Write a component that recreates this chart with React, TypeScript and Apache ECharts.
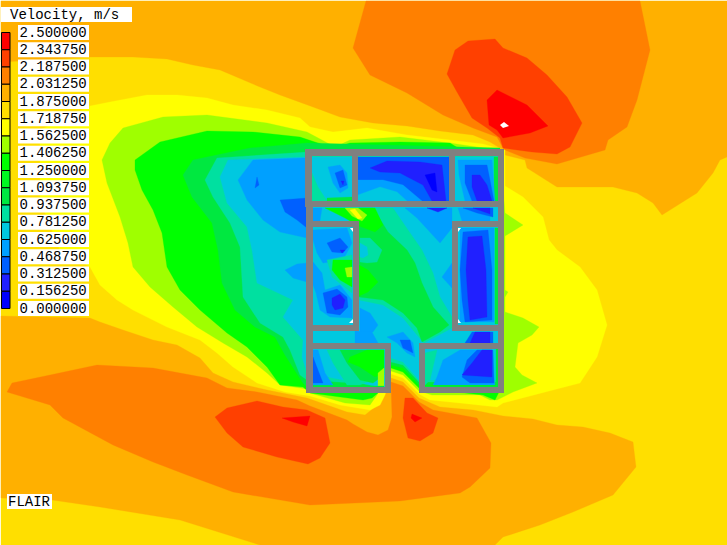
import React, { useEffect, useRef } from "react";
import * as echarts from "echarts";

type Pt = number[];
const title = "Velocity, m/s";
const brand = "FLAIR";
const tickLabels = ["2.500000","2.343750","2.187500","2.031250","1.875000","1.718750","1.562500","1.406250","1.250000","1.093750","0.937500","0.781250","0.625000","0.468750","0.312500","0.156250","0.000000"];
const bandColors = ["#0000ff","#2020ff","#0060ff","#00a0ff","#00c8e0","#00e0a0","#00e840","#00f820","#00ff00","#9fff00","#ffff00","#ffdf00","#ffb000","#ff8000","#ff4000","#ff0000"];

// Contour outlines in the plot's own coordinates
const field: Pt[] = [[1,1],[727,1],[727,545],[1,545]];
const topB: Pt[] = [[1,1],[727,1],[727,157],[720,160],[713,173],[697,193],[662,215],[653,203],[637,193],[613,187],[557,187],[527,168],[525,160],[505,155],[500,148],[490,142],[473,135],[440,131],[407,126],[373,123],[340,117],[313,107],[280,95],[260,87],[220,70],[193,65],[167,59],[133,57],[90,57],[40,60],[1,62]];
const lowB: Pt[] = [[1,316],[90,318],[100,322],[123,330],[153,340],[177,345],[200,358],[213,373],[233,382],[267,390],[307,398],[347,412],[365,415],[375,407],[383,393],[391,378],[403,382],[419,398],[440,407],[473,410],[503,416],[533,419],[557,425],[583,427],[610,433],[633,442],[636,467],[613,495],[573,512],[540,525],[503,537],[495,545],[260,545],[180,520],[100,507],[52,500],[1,498]];
const topC: Pt[] = [[366,1],[353,48],[370,75],[407,93],[443,115],[473,128],[497,137],[503,148],[505,150],[525,158],[557,164],[605,150],[608,140],[627,127],[637,100],[650,50],[640,1]];
const lowC: Pt[] = [[7,392],[12,383],[50,375],[97,365],[153,368],[207,378],[227,388],[257,392],[297,400],[310,406],[347,420],[353,424],[367,432],[378,435],[388,430],[392,417],[391,382],[403,386],[419,402],[433,410],[477,418],[491,443],[490,468],[470,487],[460,493],[400,501],[310,505],[233,492],[187,475],[153,462],[113,445],[63,418],[50,405]];
const topD: Pt[] = [[455,50],[468,41],[495,39],[503,48],[527,58],[547,75],[567,97],[582,123],[570,147],[557,154],[532,152],[503,148],[500,138],[487,128],[472,118],[457,92],[447,74]];
const lowD1: Pt[] = [[215,417],[227,408],[257,401],[283,407],[307,410],[325,418],[330,443],[320,458],[308,464],[277,457],[243,447],[227,433]];
const lowD2: Pt[] = [[405,398],[413,398],[427,413],[438,418],[433,433],[420,441],[408,438],[403,418]];
const topE: Pt[] = [[497,90],[527,105],[548,126],[530,133],[503,138],[497,130],[489,125],[487,100]];
const lowE1: Pt[] = [[282,418],[310,416],[307,426],[293,422]];
const lowE2: Pt[] = [[412,414],[422,418],[415,422],[411,418]];
const peak: Pt[] = [[500,125],[504,122],[509,126],[503,128]];

const coreYellow: Pt[] = [[90,106],[110,102],[147,95],[177,95],[207,98],[233,105],[267,110],[300,118],[310,127],[333,132],[367,128],[407,135],[450,140],[483,144],[497,148],[505,150],[505,186],[523,197],[543,217],[549,240],[557,250],[580,267],[597,290],[607,325],[597,357],[580,383],[553,390],[503,403],[497,407],[460,403],[430,400],[419,394],[403,378],[391,374],[385,395],[380,405],[370,410],[340,405],[310,396],[285,392],[257,383],[233,367],[217,353],[200,340],[167,327],[133,310],[117,300],[100,285],[90,267],[60,250],[40,200],[40,130]];
const coreLime: Pt[] = [[102,160],[110,143],[123,128],[163,117],[207,115],[267,123],[307,132],[335,147],[350,140],[400,137],[450,143],[483,148],[500,150],[505,213],[523,225],[505,236],[505,290],[508,292],[505,297],[505,312],[523,318],[539,327],[532,335],[518,343],[515,367],[522,375],[537,383],[513,392],[497,400],[490,400],[480,395],[432,395],[419,391],[403,375],[391,371],[385,380],[377,395],[370,405],[345,403],[310,393],[307,389],[280,385],[267,373],[247,357],[223,343],[197,327],[173,307],[150,287],[133,267],[128,243],[120,217],[107,183]];
const coreGreen: Pt[] = [[135,160],[160,142],[207,131],[253,132],[300,137],[333,148],[350,143],[400,142],[450,143],[458,148],[500,150],[500,390],[495,400],[483,395],[419,388],[403,372],[391,368],[385,375],[378,393],[372,398],[363,400],[310,393],[303,387],[280,385],[267,367],[247,347],[227,333],[200,310],[180,290],[167,267],[162,233],[153,210],[142,190],[135,170]];
const coreDark: Pt[] = [[183,175],[193,160],[250,148],[307,143],[500,148],[500,385],[419,385],[403,368],[391,365],[385,390],[310,390],[303,383],[285,355],[275,337],[255,327],[235,310],[222,283],[218,250],[212,223],[192,197]];
const coreTeal: Pt[] = [[205,180],[217,158],[307,152],[500,152],[500,382],[419,382],[403,365],[391,362],[385,385],[307,380],[300,375],[290,350],[283,337],[260,323],[243,297],[240,247],[230,223],[213,197]];
const coreCyan: Pt[] = [[220,177],[228,160],[307,157],[500,157],[500,380],[419,380],[403,362],[391,358],[385,388],[307,373],[302,357],[303,340],[283,317],[293,300],[257,283],[252,250],[247,227],[227,203]];

const midTeal: Pt[] = [[359,208],[393,208],[408,230],[422,250],[433,273],[440,297],[452,317],[452,328],[424,343],[417,335],[403,318],[383,305],[359,300]];
const midDark: Pt[] = [[359,208],[373,208],[388,232],[407,250],[415,263],[422,283],[433,307],[449,325],[440,332],[422,342],[417,328],[403,313],[383,300],[359,297]];
const midGreen: Pt[] = [[359,265],[368,270],[378,282],[368,292],[359,296]];
const midBlobTeal: Pt[] = [[360,238],[370,238],[382,250],[377,262],[367,263],[360,262]];
const midBlobCyan: Pt[] = [[360,243],[367,247],[368,255],[363,258],[360,257]];
const wingBlue: Pt[] = [[405,208],[417,218],[440,243],[452,228],[452,208]];
const wingDeep: Pt[] = [[427,208],[438,212],[447,208]];
const wingLobe: Pt[] = [[442,277],[452,263],[452,288]];
const lowBlob: Pt[] = [[360,308],[370,313],[378,325],[373,332],[360,332]];
const gapBlob: Pt[] = [[387,337],[403,332],[413,343],[415,357],[407,353],[397,343]];
const gapDeep: Pt[] = [[400,340],[410,340],[413,353],[403,348]];

const leftBlue: Pt[] = [[238,180],[253,160],[303,158],[307,158],[307,238],[280,232],[263,220],[247,200]];
const leftDeep: Pt[] = [[280,200],[307,198],[307,228],[297,220],[285,212]];
const leftSpeck: Pt[] = [[257,177],[259,185],[255,188]];
const leftBlue2: Pt[] = [[285,270],[297,264],[307,263],[307,282],[293,278]];

const r1Teal: Pt[] = [[312,173],[318,187],[327,201],[312,201]];
const r1Dark: Pt[] = [[327,198],[352,197],[352,201],[327,201]];
const r1Blue: Pt[] = [[328,167],[340,165],[347,173],[348,188],[340,193],[333,183]];
const r1Deep: Pt[] = [[335,173],[343,170],[347,185],[340,188]];
const r1Core: Pt[] = [[341,181],[344,181],[343,185]];

const r2Base: Pt[] = [[358,157],[449,157],[449,201],[358,201]];
const r2Blue: Pt[] = [[358,180],[383,180],[403,185],[422,201],[358,201]];
const r2Cyan: Pt[] = [[358,195],[380,187],[397,192],[407,201],[358,201]];
const r2Core: Pt[] = [[370,168],[387,161],[420,162],[442,165],[446,201],[432,201],[423,185],[400,173],[380,172]];
const r2Pure: Pt[] = [[425,175],[435,173],[437,192],[432,190]];

const r3Edge: Pt[] = [[494,157],[498,157],[498,201],[494,201]];
const r3Blue: Pt[] = [[458,160],[492,160],[495,201],[465,201],[459,175]];
const r3Deep: Pt[] = [[465,165],[487,165],[490,180],[494,201],[472,201],[465,183]];
const r3Core: Pt[] = [[472,175],[480,175],[487,185],[492,201],[477,201],[472,187]];

const s1Green: Pt[] = [[325,208],[375,208],[383,225],[375,232],[359,226],[345,218]];
const s1Lime: Pt[] = [[345,208],[358,208],[367,215],[362,221],[352,216]];
const s1Yellow: Pt[] = [[350,210],[355,209],[362,218],[358,219]];
const s1Blue: Pt[] = [[313,208],[322,208],[320,221],[313,221]];
const s2Blue: Pt[] = [[458,208],[490,208],[490,221],[462,221]];
const s2Deep: Pt[] = [[463,208],[493,208],[493,217],[477,213]];
const s2Core: Pt[] = [[473,208],[490,208],[490,214]];

const r4Blue: Pt[] = [[313,230],[347,228],[352,243],[343,260],[323,263],[317,253],[313,240]];
const r4Deep: Pt[] = [[327,243],[340,238],[348,247],[343,253],[332,252]];
const r4Speck: Pt[] = [[340,250],[345,250],[342,253]];
const r4Blue2: Pt[] = [[313,262],[322,273],[325,290],[340,285],[352,300],[352,318],[330,317],[320,310],[316,293],[313,285]];
const r4Deep2: Pt[] = [[323,293],[337,289],[347,297],[348,307],[340,315],[327,313]];
const r4Core2: Pt[] = [[332,298],[340,294],[345,300],[343,308],[335,310],[332,305]];
const r4Teal: Pt[] = [[327,260],[332,277],[352,293],[352,255]];
const r4Green: Pt[] = [[333,260],[352,260],[352,287],[340,280],[332,270]];
const r4Lime: Pt[] = [[345,268],[352,267],[352,277],[347,277]];

const r5Blue: Pt[] = [[460,228],[494,228],[494,322],[460,322]];
const r5Deep: Pt[] = [[463,232],[488,230],[492,270],[492,320],[465,322],[462,300],[460,270]];
const r5Core: Pt[] = [[468,237],[482,236],[486,270],[487,317],[470,320],[468,300],[466,270]];
const r5Edge: Pt[] = [[495,228],[498,228],[498,324],[495,324]];

const s3Blob: Pt[] = [[355,331],[372,332],[378,343],[355,343]];
const s4Deep: Pt[] = [[465,343],[472,332],[493,332],[493,343]];
const s4Core: Pt[] = [[470,343],[475,332],[490,332],[490,343]];

const r6Blue: Pt[] = [[313,350],[318,350],[325,373],[333,385],[313,385]];
const r6Deep: Pt[] = [[313,357],[323,383],[313,383]];
const r6Teal: Pt[] = [[327,350],[384,350],[384,375],[360,385],[347,385],[333,363]];
const r6Dark: Pt[] = [[340,350],[384,350],[384,375],[373,383],[360,380],[347,363]];
const r6Green: Pt[] = [[350,357],[367,350],[384,350],[384,373],[375,377],[360,367],[348,362]];
const r6Lime: Pt[] = [[378,373],[384,368],[384,387],[378,387]];
const r6Floor: Pt[] = [[313,386],[384,386],[384,387],[313,387]];

const r7Teal: Pt[] = [[425,353],[437,350],[430,380],[425,385]];
const r7Blue: Pt[] = [[437,377],[443,360],[460,350],[490,350],[495,385],[433,385]];
const r7Deep: Pt[] = [[462,377],[467,360],[477,350],[493,350],[494,383],[470,383]];
const r7Core: Pt[] = [[462,375],[472,363],[482,350],[492,350],[492,377]];
const r7Edge: Pt[] = [[496,349],[498,349],[498,387],[496,387]];
const r7Floor: Pt[] = [[425,386],[498,386],[498,387],[425,387]];

// [velocity band, outline]; painted in this order
const layers: [number, Pt[]][] = [
  [11, field],[12, topB],[12, lowB],[13, topC],[13, lowC],[14, topD],[14, lowD1],[14, lowD2],[15, topE],[15, lowE1],[15, lowE2],
  [10, coreYellow],[9, coreLime],[8, coreGreen],[6, coreDark],[5, coreTeal],[4, coreCyan],
  [5, midTeal],[6, midDark],[8, midGreen],[5, midBlobTeal],[4, midBlobCyan],[3, wingBlue],[1, wingDeep],[3, wingLobe],[3, lowBlob],[3, gapBlob],[2, gapDeep],
  [3, leftBlue],[2, leftDeep],[2, leftSpeck],[3, leftBlue2],
  [5, r1Teal],[6, r1Dark],[3, r1Blue],[2, r1Deep],[1, r1Core],
  [2, r2Base],[3, r2Blue],[4, r2Cyan],[1, r2Core],[0, r2Pure],
  [6, r3Edge],[3, r3Blue],[2, r3Deep],[1, r3Core],
  [8, s1Green],[9, s1Lime],[10, s1Yellow],[3, s1Blue],[3, s2Blue],[2, s2Deep],[1, s2Core],
  [3, r4Blue],[2, r4Deep],[1, r4Speck],[5, r4Teal],[8, r4Green],[9, r4Lime],[3, r4Blue2],[2, r4Deep2],[1, r4Core2],
  [3, r5Blue],[2, r5Deep],[1, r5Core],[6, r5Edge],
  [3, s3Blob],[2, s4Deep],[1, s4Core],
  [3, r6Blue],[2, r6Deep],[5, r6Teal],[6, r6Dark],[8, r6Green],[9, r6Lime],[6, r6Floor],
  [5, r7Teal],[3, r7Blue],[2, r7Deep],[1, r7Core],[6, r7Edge],[6, r7Floor],
];

// Building walls: x0, y0, x1, y1
const walls: number[][] = [
  [305,149,504,156],[305,149,312,207],[352,149,358,207],[449,149,455,207],[498,149,504,393],[305,201,504,207],
  [306,207,313,393],[306,221,359,227],[353,221,359,331],[306,325,359,331],[306,343,391,349],[385,343,391,393],[306,387,391,393],
  [452,221,504,227],[452,221,458,331],[452,325,504,331],[419,343,504,349],[419,343,425,393],[419,387,504,393],
];
const notches: Pt[][] = [
  [[350,228],[353,228],[353,232]],[[458,228],[461,228],[458,232]],[[353,319],[353,323],[349,323]],[[458,319],[461,323],[458,323]],
];
const whitePatches: Pt[][] = [peak, ...notches];

const MONO = '"Liberation Mono", monospace';

export default function App() {
  const ref = useRef<HTMLDivElement>(null);
  useEffect(() => {
    const chart = echarts.init(ref.current!, undefined, { renderer: "svg" });
    const poly = (pts: Pt[], api: any, fill: string, edge: number) => ({
      type: "polygon",
      shape: { points: pts.map((p) => api.coord(p)) },
      style: { fill, stroke: edge ? fill : "none", lineWidth: edge },
    });
    const rect = (w: number[]): Pt[] => [[w[0],w[1]],[w[2],w[1]],[w[2],w[3]],[w[0],w[3]]];
    const Z = 20;
    const swatches = bandColors.slice().reverse().map((c, i) => ({
      type: "rect", z: Z,
      shape: { x: 1.5, y: 32.5 + i * 17.25, width: 8.5, height: 17.25 },
      style: { fill: c, stroke: "#000", lineWidth: 1 },
    }));
    const labels = tickLabels.flatMap((t, i) => {
      const y = 32.5 + i * 17.25;
      return [
        { type: "rect", z: Z, shape: { x: 18, y: y - 7.5, width: 71, height: 15 }, style: { fill: "#fff" } },
        { type: "text", z: Z + 1, x: 19.5, y, style: { text: t, font: `14px ${MONO}`, fill: "#000", textVerticalAlign: "middle" } },
      ];
    });
    chart.setOption({
      animation: false,
      backgroundColor: "#fff",
      grid: { left: 0, right: 0, top: 0, bottom: 0 },
      xAxis: { type: "value", min: 0, max: 727, show: false },
      yAxis: { type: "value", min: 0, max: 545, inverse: true, show: false },
      series: [
        {
          type: "custom", silent: true, clip: false, z: 2,
          data: layers.map((_, i) => [i, 0]),
          renderItem: (p: any, api: any) => {
            const l = layers[p.dataIndex];
            return poly(l[1], api, bandColors[l[0]], 0.3);
          },
        },
        {
          type: "custom", silent: true, clip: false, z: 4,
          data: whitePatches.map((_, i) => [i, 0]),
          renderItem: (p: any, api: any) => poly(whitePatches[p.dataIndex], api, "#fff", 0),
        },
        {
          type: "custom", silent: true, clip: false, z: 3,
          data: walls.map((_, i) => [i, 0]),
          renderItem: (p: any, api: any) => poly(rect(walls[p.dataIndex]), api, "#808080", 0),
        },
      ],
      graphic: [
        { type: "rect", z: Z, shape: { x: 1, y: 7, width: 131, height: 15 }, style: { fill: "#fff" } },
        { type: "text", z: Z + 1, x: 10, y: 14.5, style: { text: title, font: `14px ${MONO}`, fill: "#000", textVerticalAlign: "middle" } },
        ...swatches,
        ...labels,
        { type: "rect", z: Z, shape: { x: 7, y: 494, width: 45, height: 15 }, style: { fill: "#fff" } },
        { type: "text", z: Z + 1, x: 8, y: 501.5, style: { text: brand, font: `14px ${MONO}`, fill: "#000", textVerticalAlign: "middle" } },
      ],
    });
    return () => chart.dispose();
  }, []);
  return <div ref={ref} style={{ position: "fixed", left: 0, top: 0, width: 727, height: 545 }} />;
}
